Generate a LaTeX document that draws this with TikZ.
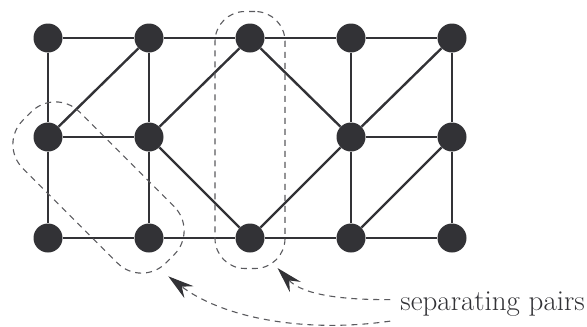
\documentclass[tikz,border=0pt]{standalone}
\usepackage{fontspec}
\usetikzlibrary{arrows.meta,positioning,calc}
\definecolor{mydark}{RGB}{50,50,54}
\definecolor{mydash}{RGB}{90,90,94}
\tikzset{
  vert/.style={circle,fill=mydark,minimum size=29pt,inner sep=0pt},
  edge/.style={line width=2.4pt,color=mydark},
  pairbox/.style={rectangle,draw=mydash,line width=1.1pt,rounded corners=34pt,
    dash pattern=on 6pt off 5pt},
  pointer/.style={-{Stealth[length=26pt,width=15pt,inset=9pt,color=mydark]},
    line width=1.1pt,color=mydash,dash pattern=on 6pt off 5pt},
  lab/.style={font=\fontsize{29}{34}\selectfont,text=mydark,inner sep=0pt},
}
\begin{document}
\begin{tikzpicture}[x=1pt,y=-1pt]
  \useasboundingbox (0,0) rectangle (587,327);
  % vertices
  \node[vert] (t1) at (48,38) {};
  \node[vert] (t2) at (149,38) {};
  \node[vert] (t3) at (250,38) {};
  \node[vert] (t4) at (351,38) {};
  \node[vert] (t5) at (452,38) {};
  \node[vert] (m1) at (48,137) {};
  \node[vert] (m2) at (149,137) {};
  \node[vert] (m4) at (351,137) {};
  \node[vert] (m5) at (452,137) {};
  \node[vert] (b1) at (48,238) {};
  \node[vert] (b2) at (149,238) {};
  \node[vert] (b3) at (250,238) {};
  \node[vert] (b4) at (351,238) {};
  \node[vert] (b5) at (452,238) {};
  % edges
  \draw[edge] (t1)--(t2); \draw[edge] (t2)--(t3);
  \draw[edge] (t3)--(t4); \draw[edge] (t4)--(t5);
  \draw[edge] (b1)--(b2); \draw[edge] (b2)--(b3);
  \draw[edge] (b3)--(b4); \draw[edge] (b4)--(b5);
  \draw[edge] (m1)--(m2); \draw[edge] (m4)--(m5);
  \draw[edge] (t1)--(m1); \draw[edge] (m1)--(b1);
  \draw[edge] (t2)--(m2); \draw[edge] (m2)--(b2);
  \draw[edge] (t4)--(m4); \draw[edge] (m4)--(b4);
  \draw[edge] (t5)--(m5); \draw[edge] (m5)--(b5);
  \draw[edge] (t2)--(m1); \draw[edge] (t3)--(m2);
  \draw[edge] (m2)--(b3); \draw[edge] (t3)--(m4);
  \draw[edge] (m4)--(b3); \draw[edge] (t5)--(m4);
  \draw[edge] (m5)--(b4);
  % separating pairs
  \node[pairbox,rotate=-45,minimum width=202pt,minimum height=80pt] (pairA)
    at ($(m1)!0.5!(b2)$) {};
  \node[pairbox,minimum width=70pt,minimum height=257pt,rounded corners=30pt] (pairB)
    at (250,140) {};
  \node[lab,anchor=base east] (lbl) at (585,310) {separating pairs};
  \draw[pointer] ($(lbl.west)+(-10,-4)$) .. controls (330,300) and (300,292)
    .. ($(pairB.south east)+(-8,-1)$);
  \draw[pointer] ($(lbl.south west)+(-10,5)$) .. controls (300,334) and (220,316)
    .. ($(pairA.east)+(-2,17)$);
\end{tikzpicture}
\end{document}
